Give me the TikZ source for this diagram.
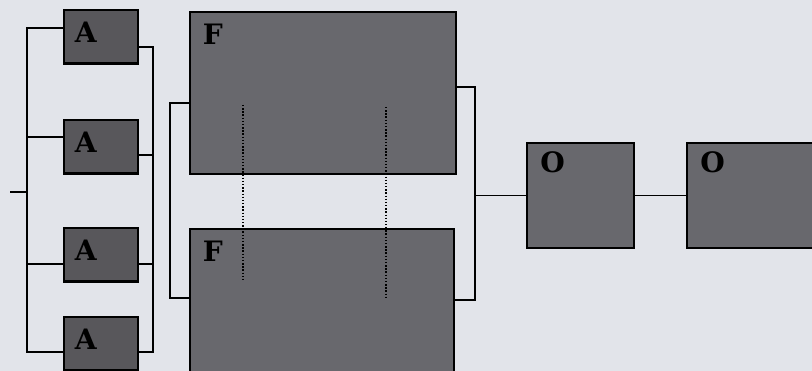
\documentclass[tikz,border=0pt]{standalone}
\usepackage{fontspec}
\usepackage{tikz}
\usetikzlibrary{positioning}

\newfontfamily\tagfont{DejaVu Serif}

\definecolor{paper}{RGB}{226,228,234}
\definecolor{boxgray}{RGB}{104,104,109}
\definecolor{boxdark}{RGB}{88,87,91}

\begin{document}
\begin{tikzpicture}[
    x=0.02cm, y=-0.02cm,
    box/.style={draw=black, line width=1.2pt, fill=boxgray, inner sep=0pt,
      outer sep=0pt, anchor=north west},
    abox/.style={box, fill=boxdark, minimum width=1.48cm, minimum height=1.07cm},
    fbox/.style={box, minimum width=5.32cm, minimum height=3.24cm},
    obox/.style={box, minimum width=2.14cm, minimum height=2.1cm},
    tag/.style={anchor=north west, inner sep=0pt,
      font=\tagfont\fontsize{16}{18}\selectfont\bfseries},
    wire/.style={line width=1.1pt, draw=black},
    probe/.style={line width=0.8pt, densely dotted, draw=black}
  ]
    \fill[paper] (0,0) rectangle (812,371);
    \useasboundingbox (0,0) rectangle (812,371);

    % basins A
    \node[abox, label={[tag, xshift=0.21cm, yshift=-0.24cm]north west:A}] (a1) at (64,10) {};
    \node[abox, label={[tag, xshift=0.21cm, yshift=-0.24cm]north west:A}] (a2) at (64,120) {};
    \node[abox, label={[tag, xshift=0.21cm, yshift=-0.24cm]north west:A}] (a3) at (64,228) {};
    \node[abox, label={[tag, xshift=0.21cm, yshift=-0.24cm]north west:A}] (a4) at (64,317) {};

    % basins F
    \node[fbox, label={[tag, xshift=0.25cm, yshift=-0.24cm]north west:F}] (f1) at (190,12) {};
    \node[fbox, minimum width=5.28cm, label={[tag, xshift=0.25cm, yshift=-0.24cm]north west:F}] (f2) at (190,229) {};

    % basins O
    \node[obox, label={[tag, xshift=0.26cm, yshift=-0.16cm]north west:O}] (o1) at (527,143) {};
    \node[obox, minimum width=2.8cm, label={[tag, xshift=0.26cm, yshift=-0.16cm]north west:O}] (o2) at (687,143) {};

    % inlet and distribution to A
    \coordinate (in) at (10,192);
    \coordinate (lt) at (27,28);
    \coordinate (lb) at (27,352);
    \draw[wire] (in) -- (lt |- in);
    \draw[wire] (a1.west |- lt) -- (lt) -- (lb) -- (a4.west |- lb);
    \draw[wire] (a2.west |- 0,137) -- (lt |- 0,137);
    \draw[wire] (a3.west |- 0,264) -- (lt |- 0,264);

    % collection from A
    \coordinate (rt) at (153,47);
    \coordinate (rb) at (153,352);
    \draw[wire] (a1.east |- rt) -- (rt) -- (rb) -- (a4.east |- rb);
    \draw[wire] (a2.east |- 0,155) -- (rt |- 0,155);
    \draw[wire] (a3.east |- 0,264) -- (rt |- 0,264);

    % feed to F
    \coordinate (ft) at (170,103);
    \coordinate (fb) at (170,298);
    \draw[wire] (f1.west |- ft) -- (ft) -- (fb) -- (f2.west |- fb);

    % dotted sections
    \draw[probe] (243,105) -- (243,280);
    \draw[probe] (386,107) -- (386,298);

    % F to O
    \coordinate (gt) at (475,87);
    \coordinate (gb) at (475,300);
    \draw[wire] (f1.east |- gt) -- (gt) -- (gb) -- (f2.east |- gb);
    \draw[wire] (gt |- o1.west) -- (o1.west);
    \draw[wire] (o1.east) -- (o2.west);
\end{tikzpicture}
\end{document}
